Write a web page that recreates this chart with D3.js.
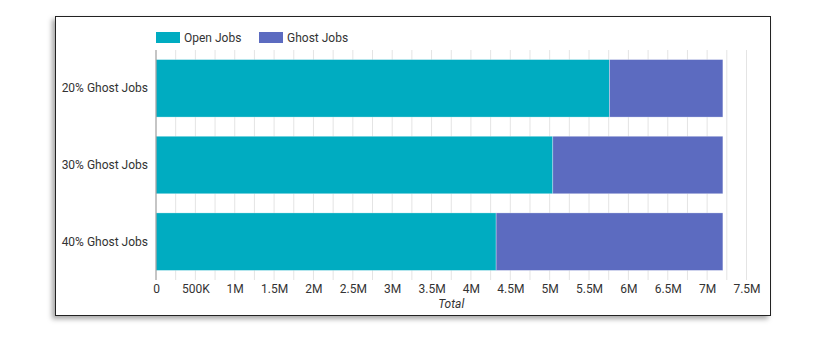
<!DOCTYPE html>
<html><head><meta charset="utf-8">
<script src="https://cdn.jsdelivr.net/npm/d3@7"></script>
<style>
body{margin:0;background:#fff;}
#frame{position:absolute;left:55px;top:16px;width:714px;height:298px;border:1.5px solid #222;box-shadow:-3px 3px 5px rgba(0,0,0,0.35);background:#fff;}
svg{position:absolute;left:0;top:0;}
text{font-family:Roboto,"Noto Sans",sans-serif;}
</style></head>
<body>
<div id="frame"></div>
<svg id="chart" width="828" height="353"></svg>
<script>
const categories = ["20% Ghost Jobs", "30% Ghost Jobs", "40% Ghost Jobs"];
const openJobs = [5760000, 5040000, 4320000];
const ghostJobs = [1440000, 2160000, 2880000];
const seriesNames = ["Open Jobs", "Ghost Jobs"];
const seriesColors = ["#00ACC1", "#5C6BC0"];
const tickValues = [0,500000,1000000,1500000,2000000,2500000,3000000,3500000,4000000,4500000,5000000,5500000,6000000,6500000,7000000,7500000];
const tickLabels = ["0","500K","1M","1.5M","2M","2.5M","3M","3.5M","4M","4.5M","5M","5.5M","6M","6.5M","7M","7.5M"];

const svg = d3.select("#chart");
const plotLeft = 156, plotRight = 746.5, plotTop = 50, axisY = 270;
const x = d3.scaleLinear().domain([0, 7500000]).range([plotLeft, plotRight]);
const y = d3.scaleBand().domain(categories).range([plotTop, 280]).paddingInner(0.25).paddingOuter(0.125);

// minor gridlines every 250K
const gridVals = d3.range(0, 7500001, 250000);
svg.append("g").selectAll("line").data(gridVals.filter(v => v > 0)).join("line")
  .attr("x1", d => x(d)).attr("x2", d => x(d))
  .attr("y1", plotTop).attr("y2", 280)
  .attr("stroke", "#e4e4e4").attr("stroke-width", 1);

// stacked bars
const rows = categories.map((c, i) => ({cat: c, vals: [openJobs[i], ghostJobs[i]]}));
rows.forEach(r => {
  let acc = 0;
  r.vals.forEach((v, j) => {
    svg.append("rect")
      .attr("x", x(acc)).attr("y", y(r.cat))
      .attr("width", x(acc + v) - x(acc)).attr("height", y.bandwidth())
      .attr("fill", seriesColors[j])
      .attr("stroke", "rgba(255,255,255,0.5)").attr("stroke-width", 0.6);
    acc += v;
  });
});

// left axis line
svg.append("line").attr("x1", plotLeft).attr("x2", plotLeft).attr("y1", plotTop).attr("y2", 280)
  .attr("stroke", "#9e9e9e").attr("stroke-width", 1.2);

// x axis labels
const xAxis = d3.axisBottom(x).tickValues(tickValues).tickSize(0).tickPadding(14)
  .tickFormat((d, i) => tickLabels[i]);
const gx = svg.append("g").attr("transform", `translate(0,${axisY})`).call(xAxis);
gx.select(".domain").remove();
gx.selectAll("text").attr("font-size", 12).attr("fill", "#333").style("font-family", "Roboto");

// y labels
const yAxis = d3.axisLeft(y).tickSize(0).tickPadding(8);
const gy = svg.append("g").attr("transform", `translate(${plotLeft},0)`).call(yAxis);
gy.select(".domain").remove();
gy.selectAll("text").attr("font-size", 12).attr("fill", "#333").style("font-family", "Roboto");

// axis title
svg.append("text").attr("x", (plotLeft + plotRight) / 2).attr("y", 308).attr("text-anchor", "middle")
  .attr("font-size", 12).attr("font-style", "italic").attr("fill", "#333").text("Total");

// legend
const legX = [156, 259];
seriesNames.forEach((n, i) => {
  svg.append("rect").attr("x", legX[i]).attr("y", 32).attr("width", 24).attr("height", 11).attr("fill", seriesColors[i]);
  svg.append("text").attr("x", legX[i] + 28).attr("y", 41.5).attr("font-size", 12).attr("fill", "#333").text(n);
});
</script>
</body></html>
